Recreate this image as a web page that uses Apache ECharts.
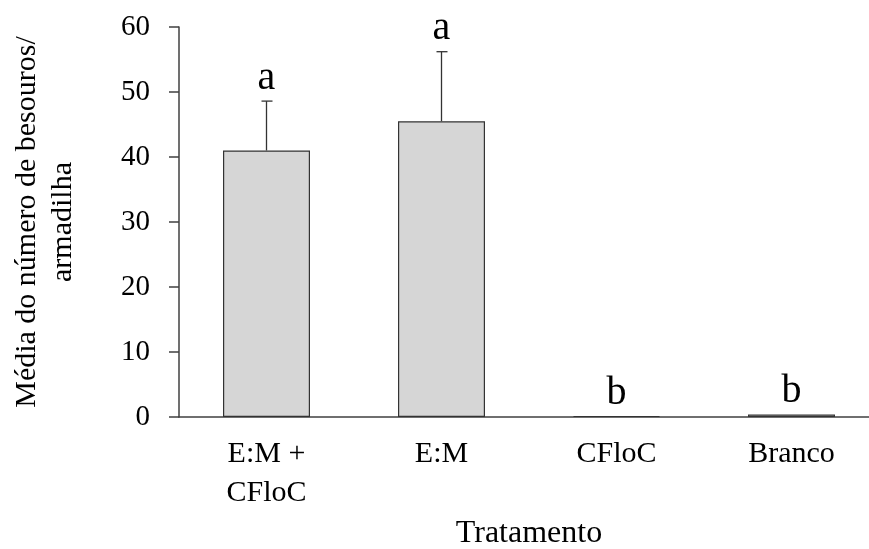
<!DOCTYPE html>
<html>
<head>
<meta charset="utf-8">
<script src="https://cdn.jsdelivr.net/npm/echarts@6/dist/echarts.min.js"></script>
<style>
  html, body { margin: 0; padding: 0; background: #fff; }
  #chart { width: 869px; height: 549px; }
</style>
</head>
<body>
<div id="chart"></div>
<script>
// Data
var categories = ['E:M +\nCFloC', 'E:M', 'CFloC', 'Branco'];
var means = [41.0, 45.5, 0.15, 0.4];
var errors = [7.6, 10.7, 0, 0];
var letters = ['a', 'a', 'b', 'b'];
var yTicks = { min: 0, max: 60, interval: 10 };

var FONT = '"Liberation Serif", "Times New Roman", serif';
var INK = '#404040';

var errData = categories.map(function (c, i) { return [i, means[i], errors[i], letters[i]]; });

var chart = echarts.init(document.getElementById('chart'), null, { renderer: 'canvas' });
chart.setOption({
  animation: false,
  backgroundColor: '#ffffff',
  grid: { left: 179, top: 27, width: 700, height: 390, containLabel: false, outerBoundsMode: 'none' },
  xAxis: {
    type: 'category',
    data: categories,
    name: 'Tratamento',
    nameLocation: 'middle',
    nameGap: 95,
    nameTextStyle: { fontFamily: FONT, fontSize: 32, color: '#000' },
    axisLine: { lineStyle: { color: INK, width: 1.5 } },
    axisTick: { show: false },
    axisLabel: { fontFamily: FONT, fontSize: 30, color: '#000', margin: 18, lineHeight: 39, interval: 0 },
    splitLine: { show: false }
  },
  yAxis: {
    type: 'value',
    min: yTicks.min,
    max: yTicks.max,
    interval: yTicks.interval,
    name: 'Média do número de besouros/\narmadilha',
    nameLocation: 'middle',
    nameRotate: 90,
    nameGap: 98,
    nameTextStyle: { fontFamily: FONT, fontSize: 30, color: '#000', lineHeight: 36, align: 'center' },
    axisLine: { show: true, lineStyle: { color: INK, width: 1.5 } },
    axisTick: { show: true, inside: false, length: 10, lineStyle: { color: INK, width: 1.5 } },
    axisLabel: { fontFamily: FONT, fontSize: 29, color: '#000', margin: 29 },
    splitLine: { show: false }
  },
  series: [
    {
      type: 'bar',
      data: means,
      barWidth: 87,
      itemStyle: { color: '#d6d6d6', borderColor: '#333333', borderWidth: 1.2 },
      z: 2
    },
    {
      type: 'custom',
      data: errData,
      z: 3,
      renderItem: function (params, api) {
        var i = api.value(0), m = api.value(1), e = api.value(2);
        var letter = letters[params.dataIndex];
        var base = api.coord([i, m]);
        var top = api.coord([i, m + e]);
        var children = [];
        if (e > 0) {
          children.push({ type: 'line', shape: { x1: base[0], y1: base[1], x2: top[0], y2: top[1] },
            style: { stroke: '#333', lineWidth: 1.3 } });
          children.push({ type: 'line', shape: { x1: top[0] - 5, y1: top[1], x2: top[0] + 6, y2: top[1] },
            style: { stroke: '#333', lineWidth: 1.3 } });
        }
        children.push({ type: 'text', style: { text: letter, x: top[0], y: top[1] - 3,
          textAlign: 'center', textVerticalAlign: 'bottom', font: '40px ' + FONT, fill: '#000' } });
        return { type: 'group', children: children };
      }
    }
  ]
});
</script>
</body>
</html>
